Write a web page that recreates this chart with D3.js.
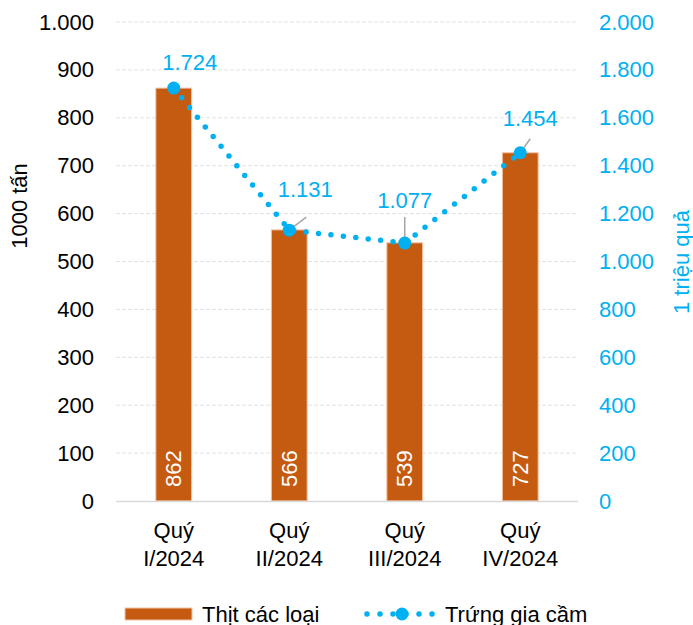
<!DOCTYPE html>
<html><head><meta charset="utf-8">
<script src="https://cdn.jsdelivr.net/npm/d3@7"></script>
<style>body{margin:0;background:#fff}svg{display:block;font-family:Arial,"Liberation Sans",sans-serif}</style>
</head><body><svg id="c" width="693" height="625"></svg>
<script>
const categories = [["Quý","I/2024"],["Quý","II/2024"],["Quý","III/2024"],["Quý","IV/2024"]];
const meat = [862, 566, 539, 727];
const eggs = [1724, 1131, 1077, 1454];
const leftTicks = [0,100,200,300,400,500,600,700,800,900,1000];
const rightTicks = [0,200,400,600,800,1000,1200,1400,1600,1800,2000];
const seriesNames = ["Thịt các loại", "Trứng gia cầm"];
const axisTitles = ["1000 tấn", "1 triệu quả"];

const BAR = "#C55A11", BLUE = "#00B0F0";
const fmt = v => d3.format(",")(v).replace(/,/g, ".");
const svg = d3.select("#c");
const L = 116, R = 578, T = 22, B = 501;

const x = d3.scaleBand().domain(d3.range(categories.length)).range([L, R]).paddingInner(0.69).paddingOuter(0.345);
const yL = d3.scaleLinear().domain([0, 1000]).range([B, T]);
const yR = d3.scaleLinear().domain([0, 2000]).range([B, T]);

// gridlines
svg.append("g").selectAll("line").data(leftTicks.filter(d => d > 0)).join("line")
  .attr("x1", L).attr("x2", R).attr("y1", d => yL(d)).attr("y2", d => yL(d))
  .attr("stroke", "#E3E3E3").attr("stroke-width", 1).attr("stroke-dasharray", "4 2");

// left axis
const gl = svg.append("g").attr("transform", `translate(${L},0)`)
  .call(d3.axisLeft(yL).tickValues(leftTicks).tickFormat(fmt).tickSize(0).tickPadding(22));
gl.select(".domain").remove();
gl.selectAll("text").attr("font-size", 22).attr("fill", "#000").attr("font-family", "Arial, Liberation Sans, sans-serif");

// right axis
const gr = svg.append("g").attr("transform", `translate(${R},0)`)
  .call(d3.axisRight(yR).tickValues(rightTicks).tickFormat(fmt).tickSize(0).tickPadding(21));
gr.select(".domain").remove();
gr.selectAll("text").attr("font-size", 22).attr("fill", BLUE).attr("font-family", "Arial, Liberation Sans, sans-serif");

// bars
svg.append("g").selectAll("rect").data(meat).join("rect")
  .attr("x", (d, i) => x(i)).attr("width", x.bandwidth())
  .attr("y", d => yL(d)).attr("height", d => B - yL(d))
  .attr("fill", BAR).attr("stroke", "#F2C4A6").attr("stroke-width", 1);

// baseline
svg.append("line").attr("x1", L).attr("x2", R).attr("y1", B + 0.5).attr("y2", B + 0.5)
  .attr("stroke", "#D9D9D9").attr("stroke-width", 1.5);

// bar value labels
svg.append("g").selectAll("text").data(meat).join("text")
  .attr("transform", (d, i) => `translate(${x(i) + x.bandwidth() / 2},${B - 14}) rotate(-90)`)
  .attr("dy", "0.35em").attr("fill", "#fff").attr("font-size", 22)
  .text(d => d);

// category labels
const cx = i => x(i) + x.bandwidth() / 2;
const cat = svg.append("g").selectAll("text").data(categories).join("text")
  .attr("text-anchor", "middle").attr("font-size", 22).attr("fill", "#000");
cat.append("tspan").attr("x", (d, i) => cx(i)).attr("y", 538).text(d => d[0]);
cat.append("tspan").attr("x", (d, i) => cx(i)).attr("y", 566).text(d => d[1]);

// egg line
const line = d3.line().x((d, i) => cx(i)).y(d => yR(d));
svg.append("path").datum(eggs).attr("d", line).attr("fill", "none")
  .attr("stroke", BLUE).attr("stroke-width", 5.5).attr("stroke-linecap", "round")
  .attr("stroke-dasharray", "0 12.5");

// egg labels with leader lines
const labelOff = [[16, -18, null], [16, -33, [[0, 0], [17, -13]]], [0, -35, [[0, -6], [0, -26]]], [10, -27, [[0, 0], [10, -14]]]];
eggs.forEach((d, i) => {
  const px = cx(i), py = yR(d), o = labelOff[i];
  if (o[2]) {
    svg.append("line").attr("x1", px + o[2][0][0]).attr("y1", py + o[2][0][1])
      .attr("x2", px + o[2][1][0]).attr("y2", py + o[2][1][1])
      .attr("stroke", "#A6A6A6").attr("stroke-width", 1.5);
  }
  svg.append("text").attr("x", px + o[0]).attr("y", py + o[1]).attr("text-anchor", "middle")
    .attr("font-size", 22).attr("fill", BLUE).text(fmt(d));
});
// markers on top of leader lines
svg.append("g").selectAll("circle").data(eggs).join("circle")
  .attr("cx", (d, i) => cx(i)).attr("cy", d => yR(d)).attr("r", 6.5).attr("fill", BLUE);

// axis titles
svg.append("text").attr("transform", "translate(19,206) rotate(-90)").attr("text-anchor", "middle")
  .attr("dy", "0.35em").attr("font-size", 22).attr("fill", "#000").text(axisTitles[0]);
svg.append("text").attr("transform", "translate(681,262) rotate(-90)").attr("text-anchor", "middle")
  .attr("dy", "0.35em").attr("font-size", 22).attr("fill", BLUE).text(axisTitles[1]);

// legend
const lg = svg.append("g");
lg.append("rect").attr("x", 125).attr("y", 608).attr("width", 67).attr("height", 12)
  .attr("fill", BAR).attr("stroke", "#F2C4A6").attr("stroke-width", 1);
lg.append("text").attr("x", 202).attr("y", 622).attr("font-size", 22).attr("fill", "#000").text(seriesNames[0]);
lg.append("line").attr("x1", 367).attr("x2", 433).attr("y1", 614).attr("y2", 614)
  .attr("stroke", BLUE).attr("stroke-width", 5.5).attr("stroke-linecap", "round").attr("stroke-dasharray", "0 13");
lg.append("circle").attr("cx", 402).attr("cy", 614).attr("r", 6.5).attr("fill", BLUE);
lg.append("text").attr("x", 445).attr("y", 622).attr("font-size", 22).attr("fill", "#000").text(seriesNames[1]);
</script></body></html>
